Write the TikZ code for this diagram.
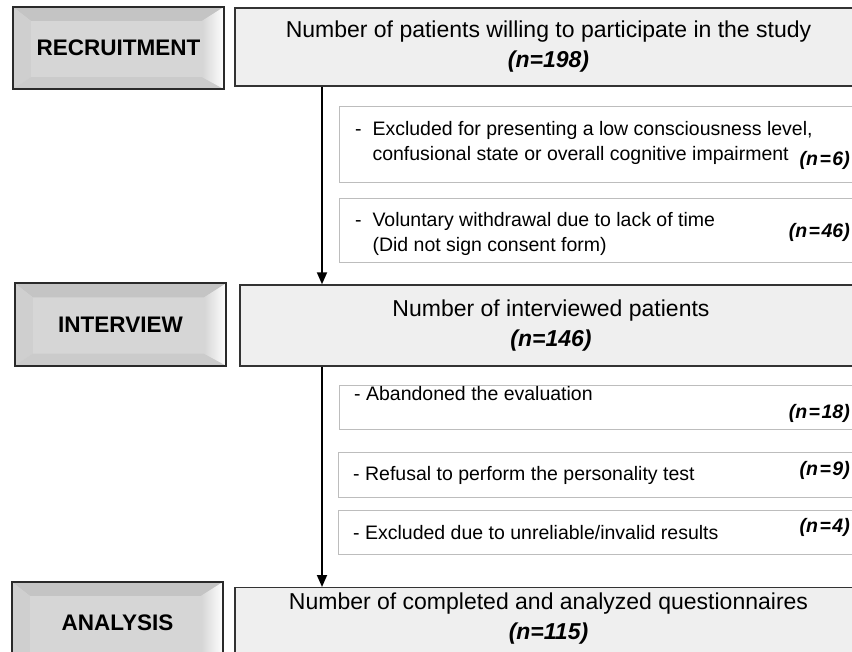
\documentclass[tikz,border=0pt]{standalone}
\usepackage{fontspec}
\setmainfont{Liberation Sans}
\usetikzlibrary{arrows.meta}
\usetikzlibrary{positioning}
\usetikzlibrary{calc}
\usetikzlibrary{backgrounds}

\definecolor{facegray}{HTML}{D6D6D6}
\definecolor{bevtopgray}{HTML}{C4C4C4}
\definecolor{bevleftgray}{HTML}{CFCFCF}
\definecolor{bevbotgray}{HTML}{CBCBCB}
\definecolor{btnedge}{HTML}{2A2A2A}
\definecolor{countgray}{HTML}{EFEFEF}
\definecolor{countedge}{HTML}{333333}
\definecolor{exedge}{HTML}{BDBDBD}

\newcommand{\tightspaces}{\spaceskip=1.5pt\relax}

% bevelled look of the stage buttons
\newcommand{\bevel}[1]{%
  \begin{scope}[on background layer]
    \coordinate (#1-a) at ($(#1.north west)+(18,14)$);
    \coordinate (#1-b) at ($(#1.north east)+(-22,14)$);
    \coordinate (#1-c) at ($(#1.south east)+(-22,-12)$);
    \coordinate (#1-d) at ($(#1.south west)+(18,-12)$);
    \fill[facegray] (#1.north west) rectangle (#1.south east);
    \fill[bevtopgray] (#1.north west) -- (#1.north east) -- (#1-b) -- (#1-a) -- cycle;
    \fill[bevleftgray] (#1.north west) -- (#1-a) -- (#1-d) -- (#1.south west) -- cycle;
    \fill[bevbotgray] (#1.south west) -- (#1-d) -- (#1-c) -- (#1.south east) -- cycle;
    \shade[left color=facegray, right color=white] (#1.north east) -- (#1-b) -- (#1-c) -- (#1.south east) -- cycle;
    \draw[line width=2pt, btnedge] (#1.north west) rectangle (#1.south east);
  \end{scope}}

\begin{document}
\begin{tikzpicture}[
    x=1pt, y=-1pt,
    stage/.style={
        minimum width=211pt, minimum height=82pt,
        inner sep=0pt,
        font=\fontsize{22.5}{26}\selectfont\bfseries
    },
    count/.style={
        draw=countedge, line width=1.4pt, fill=countgray,
        minimum width=627pt, minimum height=78pt,
        align=center,
        font=\fontsize{23}{30}\selectfont
    },
    exbox/.style={
        draw=exedge, line width=1.3pt, fill=white,
        minimum width=540pt, anchor=north west
    },
    note/.style={
        anchor=west, align=left, inner sep=0pt,
        font=\fontsize{19.5}{25}\selectfont
    },
    num/.style={
        anchor=east, inner sep=0pt,
        font=\fontsize{19.5}{24}\selectfont\bfseries\itshape\tightspaces
    },
    flow/.style={line width=1.8pt, -{Triangle[length=12pt,width=10pt]}}
]
\useasboundingbox (0,0) rectangle (852,652);
\clip (0,0) rectangle (852,652);

% stages
\node[stage] (recruit) at (118.5,48) {RECRUITMENT};
\node[stage] (interview) at (120.5,324.5) {INTERVIEW};
\node[stage] (analysis) at (117.5,623) {ANALYSIS};
\bevel{recruit}
\bevel{interview}
\bevel{analysis}

% counts
\node[count] (willing) at (548.5,47) {Number of patients willing to participate in the study\\\textbf{\textit{(n=198)}}};
\node[count, minimum width=622pt, minimum height=81pt] (interviewed) at (551,325.5) {Number of interviewed patients\\\textbf{\textit{(n=146)}}};
\node[count, minimum height=90pt, anchor=north] (analyzed) at (548.5,587) {};
\node[count, draw=none, fill=none, anchor=north] (analyzedtxt) at ($(analyzed.north)+(0,-8)$) {Number of completed and analyzed questionnaires\\\textbf{\textit{(n=115)}}};

% exclusions
\node[exbox, minimum height=76pt] (lowcons) at (339,106) {};
\node[exbox, minimum height=64pt] (withdraw) at (339,198) {};
\node[exbox, minimum height=44pt] (abandon) at (339,385) {};
\node[exbox, minimum height=45pt] (refusal) at (338,452) {};
\node[exbox, minimum height=44pt] (invalid) at (338,510) {};

\node[note] (lowconstxt) at ($(lowcons.west)+(16,-1.5)$) {-\ \ Excluded for presenting a low consciousness level,\\\hphantom{-\ \ }confusional state or overall cognitive impairment};
\node[note] (withdrawtxt) at ($(withdraw.west)+(16,3.5)$) {-\ \ Voluntary withdrawal due to lack of time\\\hphantom{-\ \ }(Did not sign consent form)};
\node[note] (abandontxt) at ($(abandon.west)+(15,-14)$) {- Abandoned the evaluation};
\node[note] (refusaltxt) at ($(refusal.west)+(15,0.5)$) {- Refusal to perform the personality test};
\node[note] (invalidtxt) at ($(invalid.west)+(15,0)$) {- Excluded due to unreliable/invalid results};

\node[num] (lowconsn) at (850,160) {(n = 6)};
\node[num] (withdrawn) at (850,232) {(n = 46)};
\node[num] (abandonn) at (850,413) {(n = 18)};
\node[num] (refusaln) at (850,470) {(n = 9)};
\node[num] (invalidn) at (850,527) {(n = 4)};

% flow
\coordinate (spine) at (322,0);
\draw[flow] (willing.south -| spine) -- (interviewed.north -| spine);
\draw[flow] (interviewed.south -| spine) -- (analyzed.north -| spine);
\end{tikzpicture}
\end{document}
